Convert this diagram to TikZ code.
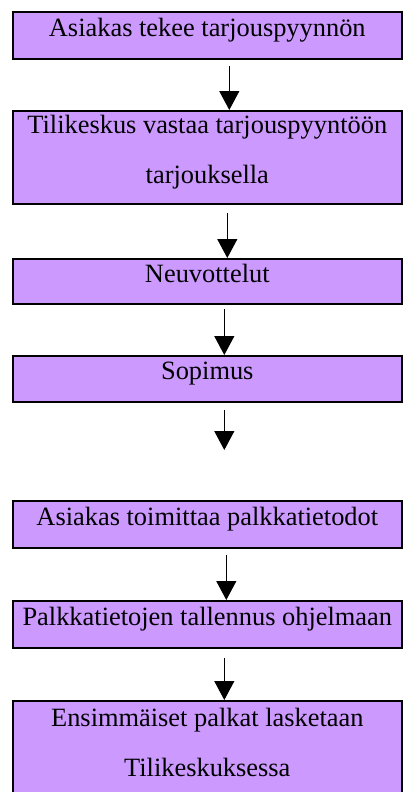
\documentclass[tikz,border=0pt]{standalone}
\usepackage{fontspec}
\setmainfont{Liberation Serif}
\usetikzlibrary{arrows.meta, positioning}
\definecolor{lilac}{HTML}{CC99FF}
\newcommand{\lowpad}{\rule[-17pt]{0pt}{17pt}}

\begin{document}
\begin{tikzpicture}[
    node distance=50pt,
    every node/.style={draw, rectangle, line width=1.6pt, fill=lilac, align=center, minimum width=389pt, minimum height=47.4pt, inner sep=2pt, font=\fontsize{26.4}{50}\selectfont, execute at end node=\lowpad},
    arrow/.style={-{Triangle[length=19pt,width=20pt]}, line width=1.2pt}
]
\useasboundingbox (0,0) rectangle (403pt,-792pt);

\node (request) [anchor=north west] at (12pt,-11pt) {Asiakas tekee tarjouspyynnön};
\node (offer) [below=50pt of request, minimum height=93.4pt] {Tilikeskus vastaa tarjouspyyntöön\\tarjouksella};
\node (talks) [below=53pt of offer, minimum height=45.4pt] {Neuvottelut};
\node (contract) [below=50pt of talks, minimum height=46.4pt] {Sopimus};
\node (data) [below=97pt of contract] {Asiakas toimittaa palkkatietodot};
\node (save) [below=51pt of data] {Palkkatietojen tallennus ohjelmaan};
\node (first) [below=51pt of save, minimum height=100pt] {Ensimmäiset palkat lasketaan\\Tilikeskuksessa};
\coordinate (gap) at ([xshift=17pt,yshift=-47pt]contract.south);

\draw[arrow] ([xshift=22pt,yshift=-6pt]request.south) -- ([xshift=22pt]offer.north);
\draw[arrow] ([xshift=20pt,yshift=-8pt]offer.south) -- ([xshift=20pt]talks.north);
\draw[arrow] ([xshift=17pt,yshift=-4pt]talks.south) -- ([xshift=17pt]contract.north);
\draw[arrow] ([xshift=17pt,yshift=-7pt]contract.south) -- (gap);
\draw[arrow] ([xshift=19pt,yshift=-6pt]data.south) -- ([xshift=19pt]save.north);
\draw[arrow] ([xshift=17pt,yshift=-9pt]save.south) -- ([xshift=17pt]first.north);

\end{tikzpicture}
\end{document}
